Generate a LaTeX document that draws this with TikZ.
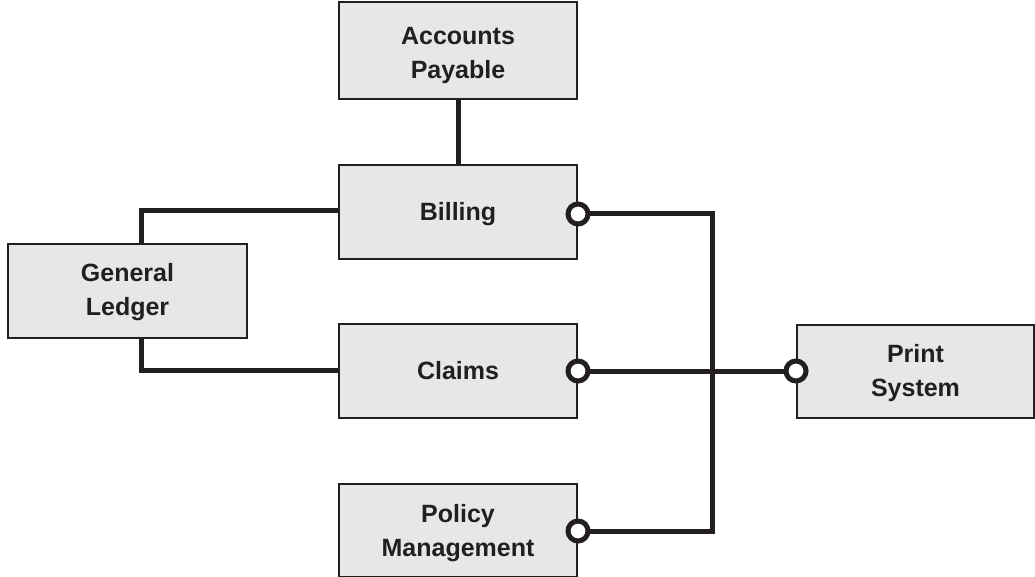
\documentclass[tikz,border=0pt]{standalone}
\usepackage{fontspec}
\setmainfont{Liberation Sans}
\usetikzlibrary{calc}
\definecolor{boxfill}{HTML}{E6E7E8}
\definecolor{ink}{HTML}{231F20}
\tikzset{
  sysbox/.style={draw=ink, line width=2pt, fill=boxfill, rectangle, inner sep=0pt},
  boxtext/.style={align=center, inner sep=0pt, font=\fontsize{25}{34}\selectfont\bfseries, text=ink},
  wire/.style={draw=ink, line width=5pt},
  port/.style={circle, draw=ink, line width=5pt, fill=white, minimum size=20pt, inner sep=0pt},
}
\begin{document}
\begin{tikzpicture}[x=1pt,y=-1pt]
\useasboundingbox (0,0) rectangle (1035,577);
\node[sysbox, minimum width=238pt, minimum height=97pt,
  label={[boxtext, name=apt, yshift=-5pt]center:{Accounts\\Payable}}] (ap) at (458,50.5) {};
\node[sysbox, minimum width=238pt, minimum height=94pt,
  label={[boxtext, name=bilt, yshift=-2pt]center:{Billing}}] (bil) at (458,212) {};
\node[sysbox, minimum width=239pt, minimum height=93pt,
  label={[boxtext, name=glt, yshift=-1.5pt]center:{General\\Ledger}}] (gl) at (127.5,291) {};
\node[sysbox, minimum width=238pt, minimum height=94pt,
  label={[boxtext, name=clat]center:{Claims}}] (cla) at (458,370.5) {};
\node[sysbox, minimum width=237pt, minimum height=93pt,
  label={[boxtext, name=prnt, yshift=-2pt]center:{Print\\System}}] (prn) at (915.5,371.5) {};
\node[sysbox, minimum width=238pt, minimum height=93pt,
  label={[boxtext, name=polt, yshift=-3.5pt]center:{Policy\\Management}}] (pol) at (458,530) {};
% junction coordinates
\coordinate (bp) at (bil.east |- 0,214);
\coordinate (cp) at (cla.east |- 0,371);
\coordinate (pp) at (pol.east |- 0,531);
\coordinate (sp) at (prn.west |- 0,371);
\coordinate (gtop) at ($(gl.north)+(13.5,0)$);
\coordinate (gbot) at ($(gl.south)+(13.5,0)$);
\coordinate (jb) at (712,214);
\coordinate (jp) at (712,531);
% wires
\draw[wire] (ap.south) -- (bil.north);
\draw[wire] (bil.west |- 0,211) -| (gtop);
\draw[wire] (gbot) |- (cla.west |- 0,370);
\draw[wire] (bp) -- (jb) -- (jp) -- (pp);
\draw[wire] (cp) -- (sp);
% ports
\node[port] (pb) at (bp) {};
\node[port] (pc) at (cp) {};
\node[port] (pm) at (pp) {};
\node[port] (ps) at (sp) {};
\end{tikzpicture}
\end{document}
